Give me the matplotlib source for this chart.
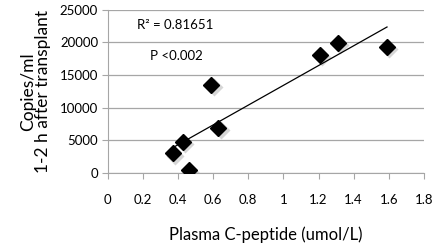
import numpy as np
import matplotlib
matplotlib.use("Agg")
import matplotlib.pyplot as plt

plt.rcParams['font.family'] = ['Lato', 'DejaVu Sans']

# values
c_peptide = [0.37, 0.43, 0.46, 0.59, 0.63, 1.21, 1.31, 1.59]
copies = [3000, 4800, 400, 13500, 6900, 18100, 19900, 19300]
x_ticks = [0, 0.2, 0.4, 0.6, 0.8, 1, 1.2, 1.4, 1.6, 1.8]
x_tick_labels = ['0', '0.2', '0.4', '0.6', '0.8', '1', '1.2', '1.4', '1.6', '1.8']
y_ticks = [0, 5000, 10000, 15000, 20000, 25000]

fig = plt.figure(figsize=(4.42, 2.44), dpi=100)
ax = fig.add_axes([0.244, 0.291, 0.715, 0.670])

x = np.array(c_peptide)
y = np.array(copies)

# linear trendline
slope, intercept = np.polyfit(x, y, 1)
xs = np.array([x.min(), x.max()])
ax.plot(xs, slope * xs + intercept, color='black', lw=0.9, zorder=3)

# soft shadow under markers
ax.plot(x + 0.012, y - 350, 'D', ms=9, color='#bbbbbb', alpha=0.6, mec='none', zorder=2)
ax.plot(x, y, 'D', ms=8.5, color='black', mec='black', zorder=4)

ax.set_xlim(0, 1.8)
ax.set_ylim(0, 25000)
ax.set_xticks(x_ticks)
ax.set_xticklabels(x_tick_labels)
ax.set_yticks(y_ticks)

ax.grid(axis='y', color='#a6a6a6', lw=0.9)
ax.set_axisbelow(True)
for side in ['top', 'right']:
    ax.spines[side].set_visible(False)
ax.spines['left'].set_color('#a6a6a6')
ax.spines['bottom'].set_color('#a6a6a6')
ax.tick_params(axis='x', direction='out', length=4, color='#a6a6a6', labelsize=9.5, pad=11)
ax.tick_params(axis='y', direction='out', length=4, color='#a6a6a6', labelsize=9.5, pad=3)

ax.text(0.165, 22700, 'R² = 0.81651', fontsize=9.5, va='center')
ax.text(0.24, 17900, 'P <0.002', fontsize=9.5, va='center')

ax.set_xlabel('Plasma C-peptide (umol/L)', fontsize=12, labelpad=15)
ax.set_ylabel('Copies/ml\n1-2 h after transplant', fontsize=12.5, labelpad=6, linespacing=0.95)

fig.savefig('out.png', dpi=100)
